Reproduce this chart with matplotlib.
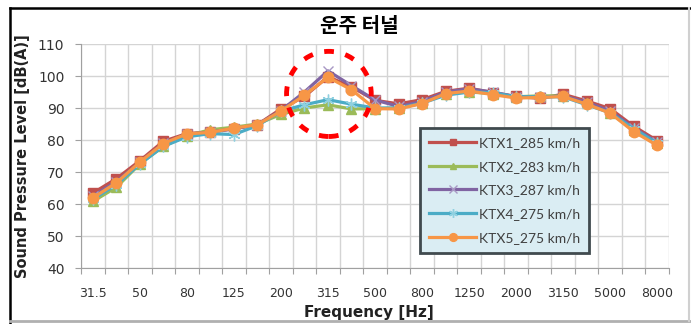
import matplotlib.pyplot as plt
import numpy as np
from matplotlib.patches import Ellipse
from matplotlib.lines import Line2D

plt.rcParams['font.family'] = ['DejaVu Sans', 'Noto Sans CJK KR']

freqs = ['31.5', '40', '50', '63', '80', '100', '125', '160', '200', '250', '315', '400', '500',
         '630', '800', '1000', '1250', '1600', '2000', '2500', '3150', '4000', '5000', '6300', '8000']

ktx1 = [63.4, 67.9, 73.5, 79.6, 82.0, 82.5, 83.5, 84.8, 89.7, 93.6, 99.8, 96.6, 92.4,
        91.3, 92.6, 95.2, 96.2, 94.8, 93.6, 93.0, 94.3, 92.2, 89.8, 84.3, 79.8]
ktx2 = [60.8, 65.2, 72.5, 78.0, 81.3, 83.2, 84.0, 85.0, 88.0, 90.0, 91.0, 89.7, 89.8,
        90.0, 91.5, 94.5, 95.0, 94.5, 93.5, 93.8, 93.8, 91.5, 88.5, 83.0, 79.0]
ktx3 = [62.5, 67.0, 73.0, 79.0, 81.8, 82.5, 83.5, 84.8, 89.2, 95.0, 101.6, 97.0, 92.5,
        90.5, 92.0, 95.0, 96.0, 95.0, 93.5, 93.3, 93.8, 91.8, 89.0, 83.8, 79.3]
ktx4 = [61.5, 66.0, 72.5, 78.0, 81.0, 82.0, 81.7, 84.5, 89.0, 91.0, 92.6, 91.2, 90.0,
        90.0, 91.5, 94.0, 95.0, 94.8, 93.5, 93.5, 93.5, 91.0, 88.5, 83.5, 79.0]
ktx5 = [61.9, 66.6, 73.1, 78.9, 81.9, 82.4, 83.7, 84.8, 89.0, 94.0, 99.6, 95.7, 89.8,
        89.7, 91.4, 94.5, 95.3, 94.2, 93.1, 93.3, 93.6, 91.2, 88.4, 82.6, 78.3]

labels = ['KTX1_285 km/h', 'KTX2_283 km/h', 'KTX3_287 km/h', 'KTX4_275 km/h', 'KTX5_275 km/h']

fig = plt.figure(figsize=(6.91, 3.24), dpi=100)
ax = fig.add_axes([81/691, 1-268/324, 588/691, 224/324])

x = np.arange(len(freqs))
ax.plot(x, ktx1, '-s', color='#c0504d', lw=2.3, ms=6.5, label=labels[0])
ax.plot(x, ktx2, '-^', color='#9bbb59', lw=2.3, ms=6.5, label=labels[1])
ax.plot(x, ktx3, '-x', color='#8064a2', lw=2.3, ms=7.5, mec='#a898c4', mew=1, label=labels[2])
ax.plot(x, ktx4, '-', marker=(6, 2, 0), color='#4bacc6', lw=2.3, ms=8.5, mec='#8fd0e0', mew=1, label=labels[3])
ax.plot(x, ktx5, '-o', color='#f79646', lw=2.3, ms=7.5, label=labels[4])

ax.set_xlim(-0.5, len(freqs) - 0.5)
ax.set_ylim(40, 110)
ax.set_yticks(np.arange(40, 111, 10))
ax.set_xticks(np.arange(-0.5, len(freqs), 1))
ax.set_xticklabels([])
ax.set_xticks(x[::2], minor=True)
ax.set_xticklabels(freqs[::2], minor=True)
ax.tick_params(axis='x', which='major', length=4, color='#a0a0a0')
ax.tick_params(axis='x', which='minor', length=0, pad=14, labelsize=9, labelcolor='#333333')
ax.tick_params(axis='y', length=4, color='#a0a0a0', pad=8, labelsize=10, labelcolor='#333333')
ax.grid(True, which='major', color='#d4d4d4', lw=1)
for s in ['top', 'right']:
    ax.spines[s].set_visible(False)
for s in ['left', 'bottom']:
    ax.spines[s].set_color('#a0a0a0')

ax.set_ylabel('Sound Pressure Level [dB(A)]', fontsize=10.5, fontweight='bold', color='#222222', labelpad=6)
ax.set_xlabel('Frequency [Hz]', fontsize=11, fontweight='bold', color='#222222', va='center')
ax.xaxis.set_label_coords(0.49, -0.2)
fig.text(359/691, 1-25/324, '운주 터널', family=['Noto Sans CJK KR'], fontsize=14.5,
         fontweight='heavy', ha='center', va='center')

ell = Ellipse((10.04, 94.4), 3.6, 26.6, fill=False, edgecolor='#ff0000', lw=3.5,
              linestyle=(0, (2, 2.4)), zorder=5)
ax.add_patch(ell)

leg = ax.legend(loc='lower left', bbox_to_anchor=(0.565, 0.036), labelspacing=0.85,
                handlelength=3.4, borderpad=0.65, handletextpad=0.2, markerscale=0.75,
                fancybox=False, framealpha=1, prop={'family': 'Lato', 'size': 10})
leg.get_frame().set_facecolor('#daedf3')
leg.get_frame().set_edgecolor('#404a4e')
leg.get_frame().set_linewidth(2)
for t in leg.get_texts():
    t.set_color('#404040')

# outer frame
fig.add_artist(Line2D([10/691, 10/691], [1-8/324, 0], color='black', lw=1.8, transform=fig.transFigure))
fig.add_artist(Line2D([10/691, 1], [1-8/324, 1-8/324], color='black', lw=1.8, transform=fig.transFigure))
fig.add_artist(Line2D([10/691, 1], [1-321/324, 1-321/324], color='#b0b0b0', lw=2, transform=fig.transFigure))
fig.add_artist(Line2D([689/691, 689/691], [1-8/324, 1-321/324], color='#d0d0d0', lw=1.5, transform=fig.transFigure))

fig.savefig('out.png', dpi=100)
